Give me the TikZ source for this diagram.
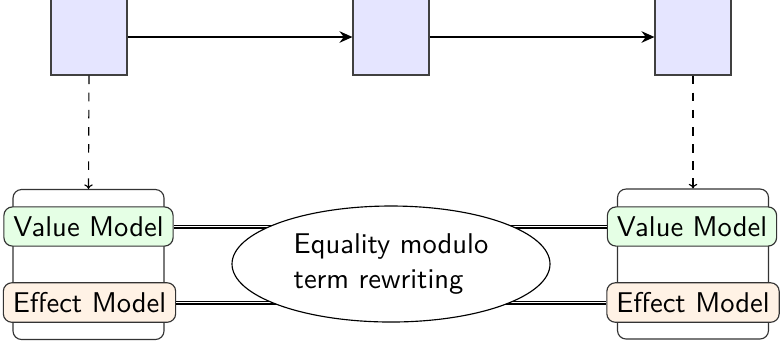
\documentclass[tikz,border=0pt]{standalone}
\usetikzlibrary{shapes.geometric,arrows.meta}
\begin{document}
\begin{tikzpicture}[x=0.35pt,y=-0.35pt,font=\sffamily,
  stage/.style={draw=black!75,fill=blue!10,minimum width=26.6pt,minimum height=26.6pt,inner sep=0pt},
  frame/.style={draw=black!80,rounded corners=3pt,minimum width=52.85pt,minimum height=52.5pt,inner sep=0pt},
  valuebox/.style={draw=black!80,rounded corners=3pt,fill=green!10,minimum height=13.7pt},
  effectbox/.style={draw=black!80,rounded corners=3pt,fill=orange!10,minimum height=13.7pt},
  link/.style={double,double distance=0.6pt},
  flow/.style={thick,-{Stealth[length=4.5pt,width=4pt]}},
  proj/.style={dashed,-{To[length=1.6pt,width=3pt]}},
  eqnode/.style={ellipse,draw,fill=white,minimum width=111.3pt,minimum height=40.6pt,align=left,inner sep=0pt}]
  \useasboundingbox (0,0) rectangle (781,341);

  % states
  \node[stage] (s1) at (89,37) {};
  \node[stage] (s2) at (391,37) {};
  \node[stage] (s3) at (693,37) {};
  \draw[flow] (s1) -- (s2);
  \draw[flow] (s2) -- (s3);

  % models of the first and last state
  \node[frame] (m1) at (88.5,264.5) {};
  \node[frame] (m2) at (693,264) {};
  \draw[proj] (s1.south) -- (m1.north);
  \draw[proj] (s3.south) -- (m2.north);

  \node[valuebox] (v1) at (88.5,226.5) {Value Model};
  \node[effectbox] (e1) at (89.5,302.5) {Effect Model};
  \node[valuebox] (v2) at (692,226.5) {Value Model};
  \node[effectbox] (e2) at (693,302.5) {Effect Model};

  \draw[link] (v1.east) -- (v2.west);
  \draw[link] (e1.east) -- (e2.west);

  \node[eqnode] (eq) at (391,264) {Equality modulo\\term rewriting};
\end{tikzpicture}
\end{document}
